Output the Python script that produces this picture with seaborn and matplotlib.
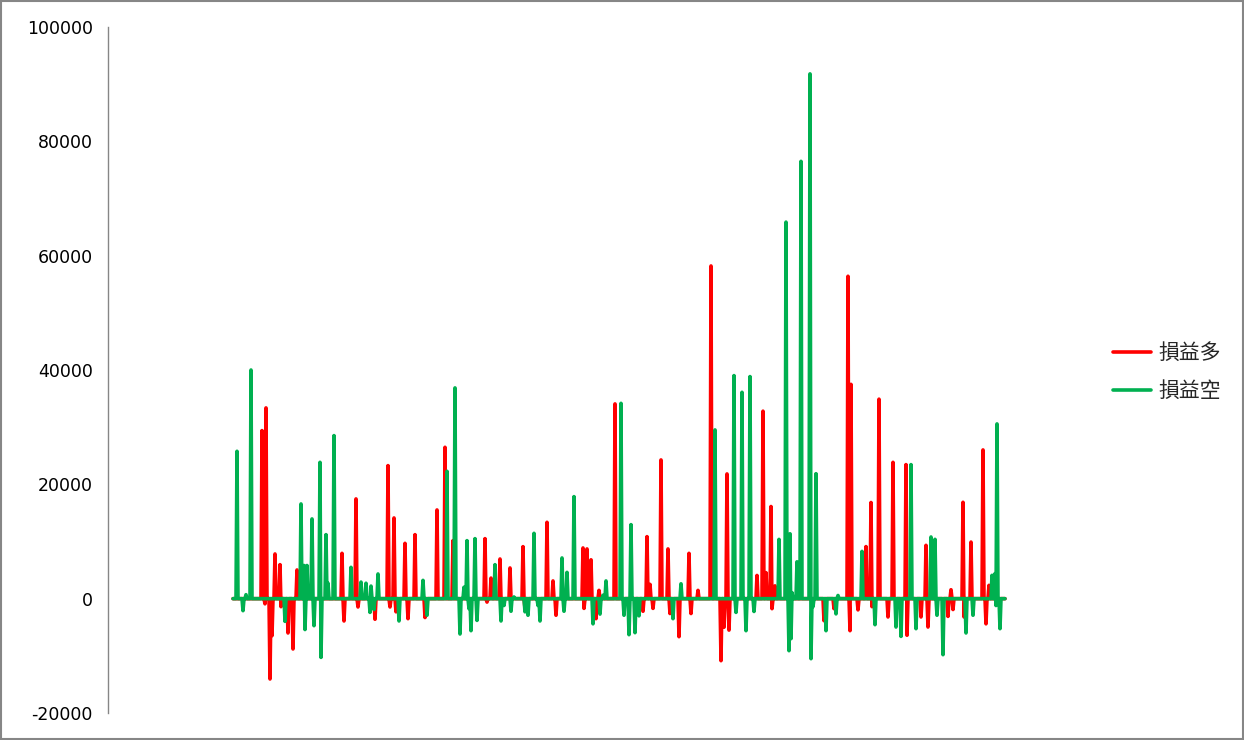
import numpy as np
import pandas as pd
import seaborn as sns
import matplotlib.pyplot as plt
from matplotlib.patches import Rectangle

# number of trades on the category axis; all other trades are 0
n_trades = 773

# 損益多 (long side) - trade index and profit/loss
long_idx = [29, 32, 33, 37, 39, 42, 47, 48, 55, 60, 64, 109, 111, 123, 125, 142, 155, 157, 161,
            163, 172, 175, 182, 192, 204, 212, 220, 252, 254, 258, 267, 277, 290, 292, 314, 320,
            323, 350, 351, 354, 358, 363, 366, 382, 410, 414, 417, 420, 428, 435, 437, 446, 456,
            458, 465, 478, 488, 491, 494, 496, 524, 530, 533, 538, 539, 542, 591, 601, 615, 617,
            618, 625, 633, 638, 639, 646, 655, 660, 673, 674, 688, 693, 695, 715, 718, 720, 730,
            731, 738, 750, 753, 756]
long_val = [29400, -900, 33370, -14050, -6475, 7820, 5950, -1400, -6000, -8800, 5020, 7930,
            -3900, 17450, -1450, -3600, 23275, -1450, 14120, -2300, 9680, -3500, 11200, -3300,
            15520, 26480, 10150, 10500, -600, 3600, 6940, 5370, 9100, -1700, 13360, 3100,
            -2900, 8870, -1700, 8700, 6800, -3500, 1450, 34070, -2200, 10850, 2500, -1700,
            24270, 8700, -2600, -6650, 7930, -2600, 1450, 58200, -10850, -5000, 21820, -5500,
            4060, 32800, 4550, 16120, -1750, 2240, -3850, -1750, 56400, -5600, 37490, -1960,
            9110, 16820, -1400, 34900, -3200, 23850, 23450, -6400, -3200, 9330, -4960, -3100,
            1560, -1900, 16860, -3200, 9900, 26020, -4400, 2330]

# 損益空 (short side)
short_idx = [4, 10, 13, 18, 52, 68, 71, 72, 74, 79, 81, 87, 88, 93, 95, 101, 118, 128, 133, 137,
             138, 141, 145, 166, 190, 194, 214, 222, 227, 231, 234, 236, 238, 242, 244, 262, 268,
             271, 278, 281, 292, 295, 301, 305, 307, 329, 331, 334, 341, 360, 367, 370, 373, 388,
             391, 396, 398, 402, 406, 440, 448, 482, 501, 503, 509, 513, 517, 521, 546, 553, 556,
             557, 558, 559, 564, 568, 577, 578, 580, 583, 593, 603, 605, 629, 642, 663, 668, 678,
             683, 698, 702, 704, 710, 733, 740, 759, 762, 763, 764, 767]
short_val = [25780, -2100, 700, 40000, -3970, 16570, 5800, -5400, 5800, 13950, -4725, 23850,
             -10270, 11200, 2700, 28525, 5480, 2900, 2700, -2400, 2200, -1900, 4320, -3900,
             3200, -2900, 22280, 36870, -6180, 2000, 10150, -1750, -5600, 10500, -3800, 5950,
             -3900, -1200, -2200, 300, -2300, -2900, 11430, -1200, -3900, 7120, -2200, 4600,
             17850, -4400, -2700, 600, 3100, 34170, -2900, -6300, 12950, -5950, -3000, -3500,
             2600, 29520, 39020, -2400, 36100, -5600, 38850, -2240, 10370, 65870, -9100, 11350,
             -7000, 1050, 6450, 76500, 91800, -10500, -1400, 21860, -5600, -2660, 560, 8270,
             -4550, -4960, -6600, 23450, -5250, 10790, 10380, -2900, -9800, -6000, -2900, 4080,
             4380, -1200, 30570, -5250]

labels = ["損益多", "損益空"]
colors = ["#FF0000", "#00B050"]
y_ticks = [-20000, 0, 20000, 40000, 60000, 80000, 100000]


def full_series(idx, val):
    s = np.zeros(n_trades)
    s[idx] = val
    return s


df = pd.DataFrame({"trade": np.arange(n_trades),
                   labels[0]: full_series(long_idx, long_val),
                   labels[1]: full_series(short_idx, short_val)})
df = df.melt(id_vars="trade", var_name="series", value_name="pnl")

sns.set_style("white")
plt.rcParams["font.family"] = ["DejaVu Sans", "Noto Sans CJK TC"]

fig = plt.figure(figsize=(12.44, 7.40), dpi=100)
ax = fig.add_axes([108 / 1244, 1 - 713 / 740, 982 / 1244, 686 / 740])

sns.lineplot(data=df, x="trade", y="pnl", hue="series", hue_order=labels,
             palette=colors, linewidth=2.6, errorbar=None, legend=False, ax=ax)

ax.set_xlim(-125, 857)
ax.set_ylim(-20000, 100000)
ax.set_yticks(y_ticks)
ax.set_yticklabels([str(t) for t in y_ticks], fontsize=12.5, color="black")
ax.set_xticks([])
ax.set_xlabel("")
ax.set_ylabel("")
for side in ["top", "right", "bottom"]:
    ax.spines[side].set_visible(False)
ax.spines["left"].set_color("#868686")
ax.spines["left"].set_linewidth(1)
ax.tick_params(axis="y", direction="out", length=4, width=1, color="#868686", pad=7)

fig.legend(ax.lines[:2], labels, loc="center left", bbox_to_anchor=(1094 / 1244, 0.497),
           frameon=False, prop={"family": ["Noto Sans CJK TC"], "size": 15},
           handlelength=1.85, handletextpad=0.35, labelspacing=0.75)

fig.add_artist(Rectangle((0.0008, 0.0014), 0.9984, 0.997, transform=fig.transFigure,
                         fill=False, edgecolor="#868686", linewidth=1.5))

fig.savefig("out.png", dpi=100)
